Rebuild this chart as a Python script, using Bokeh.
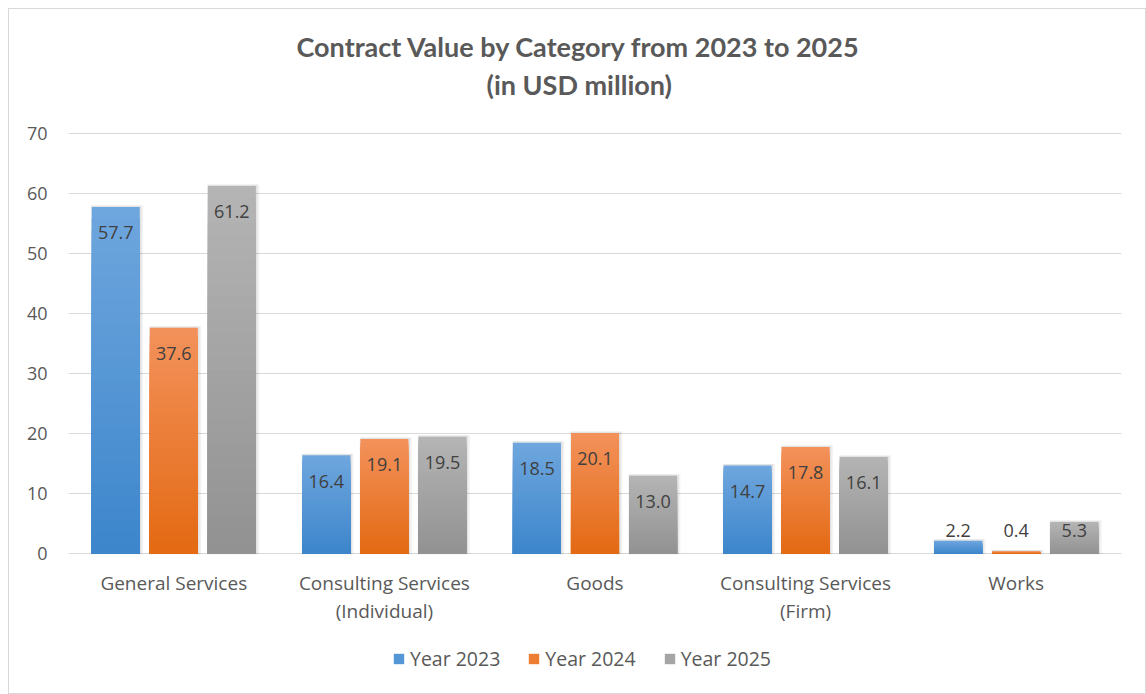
import numpy as np
from bokeh.plotting import figure
from bokeh.layouts import column
from bokeh.models import (ColumnDataSource, FactorRange, Range1d, Legend, LegendItem,
                          Title, FixedTicker)
from bokeh.transform import dodge
from bokeh.core.properties import value
from bokeh.embed import file_html
from bokeh.resources import INLINE

# ---- data ----
categories = ["General Services", "Consulting Services\n(Individual)", "Goods",
              "Consulting Services\n(Firm)", "Works"]
series_names = ["Year 2023", "Year 2024", "Year 2025"]
year_2023 = [57.7, 16.4, 18.5, 14.7, 2.2]
year_2024 = [37.6, 19.1, 20.1, 17.8, 0.4]
year_2025 = [61.2, 19.5, 13.0, 16.1, 5.3]
y_ticks = [0, 10, 20, 30, 40, 50, 60, 70]
title_lines = ["Contract Value by Category from 2023 to 2025", "(in USD million)"]

series_values = [year_2023, year_2024, year_2025]
# (top colour, bottom colour, legend colour)
palettes = [("#6ea6de", "#3d86cb", "#5597d6"),
            ("#f2915a", "#e46a14", "#ed7d31"),
            ("#b4b4b4", "#929292", "#a5a5a5")]
offsets = [-0.2757, 0.0, 0.2757]
bar_w = 0.228
TXT = "#595959"
FONT = "Open Sans"

p = figure(width=1136, height=620, x_range=FactorRange(*categories),
           y_range=Range1d(-0.1, 70.1), output_backend="svg", toolbar_location=None,
           min_border_left=59, min_border_right=24, min_border_top=123,
           min_border_bottom=75)
p.outline_line_color = None
p.background_fill_color = "white"
p.border_fill_color = "white"

# axes
p.yaxis.ticker = FixedTicker(ticks=y_ticks)
p.yaxis.axis_line_color = None
p.yaxis.major_tick_line_color = None
p.yaxis.minor_tick_line_color = None
p.yaxis.major_tick_out = 0
p.yaxis.major_label_standoff = 21
p.yaxis.major_label_text_font = FONT
p.yaxis.major_label_text_font_size = "18px"
p.yaxis.major_label_text_color = TXT

p.xaxis.axis_line_color = None
p.xaxis.major_tick_line_color = None
p.xaxis.major_tick_out = 0
p.xaxis.major_label_standoff = 15
p.xaxis.major_label_text_font = FONT
p.xaxis.major_label_text_font_size = "19px"
p.xaxis.major_label_text_color = TXT
p.xaxis.major_label_text_line_height = 1.08

p.xgrid.grid_line_color = None
p.ygrid.grid_line_color = "#d9d9d9"
p.ygrid.grid_line_width = 1.2


def hex2rgb(h):
    h = h.lstrip("#")
    return np.array([int(h[i:i + 2], 16) for i in (0, 2, 4)], dtype=float)


N = 30
for vals, (ctop, cbot, cleg), off in zip(series_values, palettes, offsets):
    v = np.array(vals, dtype=float)
    # soft shadow
    sh = ColumnDataSource(dict(cat=categories, top=v + 0.25, bottom=np.zeros_like(v) - 0.3))
    p.vbar(x=dodge("cat", off + 0.006, range=p.x_range), top="top", bottom="bottom",
           width=bar_w + 0.02, source=sh, fill_color="black", fill_alpha=0.05, line_color=None)
    p.vbar(x=dodge("cat", off + 0.004, range=p.x_range), top="top", bottom="bottom",
           width=bar_w + 0.008, source=sh, fill_color="black", fill_alpha=0.06, line_color=None)
    # gradient bars: stacked overlays from full height to the bottom
    t_rgb, b_rgb = hex2rgb(ctop), hex2rgb(cbot)
    cats, tops, cols = [], [], []
    for i in range(N):
        frac = 1.0 - i / N
        t = i / (N - 1)
        rgb = t_rgb * (1 - t) + b_rgb * t
        col = "#%02x%02x%02x" % tuple(int(round(c)) for c in rgb)
        for c, vv in zip(categories, v):
            cats.append(c)
            tops.append(vv * frac)
            cols.append(col)
    src = ColumnDataSource(dict(cat=cats, top=tops, color=cols))
    p.vbar(x=dodge("cat", off, range=p.x_range), top="top", bottom=0, width=bar_w,
           source=src, fill_color="color", line_color=None)
    # value labels
    lab = ColumnDataSource(dict(cat=categories, y=np.maximum(v - 4.3, 3.85),
                                txt=["%.1f" % x for x in v]))
    p.text(x=dodge("cat", off, range=p.x_range), y="y", text="txt", source=lab,
           text_align="center", text_baseline="middle", text_color="#404040",
           text_font=value(FONT), text_font_size="18px")

# titles: spacer nearest frame, then second line, then first line
p.add_layout(Title(text=" ", text_font_size="1px", standoff=26), "above")
p.add_layout(Title(text=title_lines[1], align="left", offset=418,
                   text_font="Lato", text_font_style="bold", text_font_size="27px",
                   text_color=TXT, standoff=6), "above")
p.add_layout(Title(text=title_lines[0], align="left", offset=228,
                   text_font="Lato", text_font_style="bold", text_font_size="27px",
                   text_color=TXT, standoff=0), "above")

# ---- legend strip below the chart ----
pl = figure(width=1136, height=64, x_range=Range1d(0, 1), y_range=Range1d(0, 1),
            x_axis_type=None, y_axis_type=None, output_backend="svg",
            toolbar_location=None, min_border=0)
pl.outline_line_color = None
pl.xgrid.grid_line_color = None
pl.ygrid.grid_line_color = None
pl.border_fill_color = "white"
items = []
for (ctop, cbot, cleg), name in zip(palettes, series_names):
    r = pl.quad(left=[-5], right=[-4], bottom=[-5], top=[-4], fill_color=cleg,
                line_color=None)
    items.append(LegendItem(label=name, renderers=[r]))
legend = Legend(items=items, orientation="horizontal", location=(324, 21),
                glyph_width=13, glyph_height=13, label_standoff=5, spacing=27,
                padding=0, margin=0, border_line_color=None, background_fill_alpha=0,
                label_text_font=FONT, label_text_font_size="19.5px", label_text_color=TXT)
pl.add_layout(legend, "center")

lay = column(p, pl, spacing=0)
lay.styles = {"border": "1px solid #d9d9d9", "margin": "8px 0 0 8px"}

open("out.html", "w").write(file_html(lay, INLINE))
